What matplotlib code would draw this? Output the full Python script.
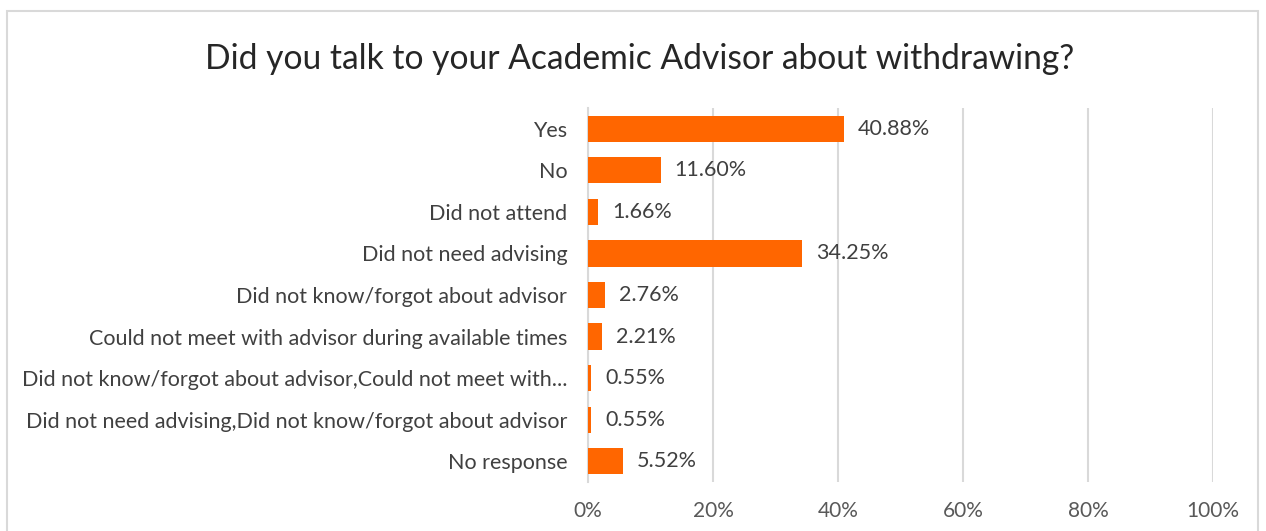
import matplotlib.pyplot as plt
from matplotlib.patches import Rectangle
from matplotlib.ticker import FuncFormatter

plt.rcParams['font.family'] = ['Lato', 'DejaVu Sans']

categories = [
    "Yes",
    "No",
    "Did not attend",
    "Did not need advising",
    "Did not know/forgot about advisor",
    "Could not meet with advisor during available times",
    "Did not know/forgot about advisor,Could not meet with...",
    "Did not need advising,Did not know/forgot about advisor",
    "No response",
]
percents = [40.88, 11.60, 1.66, 34.25, 2.76, 2.21, 0.55, 0.55, 5.52]
x_ticks = [0, 20, 40, 60, 80, 100]

bar_color = "#FF6600"
text_color = "#404040"

fig = plt.figure(figsize=(12.66, 5.31), dpi=100)
ax = fig.add_axes([588 / 1266, 1 - 482 / 531, (1213 - 588) / 1266, (482 - 108) / 531])

ypos = list(range(len(categories)))
ax.barh(ypos, percents, height=0.63, color=bar_color, zorder=3)
ax.set_ylim(len(categories) - 0.5, -0.5)
ax.set_xlim(0, 100)

for y, v in zip(ypos, percents):
    ax.annotate(f"{v:.2f}%", xy=(v, y), xytext=(10, 0), textcoords="offset points",
                va="center", ha="left", fontsize=15.5, color=text_color)

ax.set_yticks(ypos)
ax.set_yticklabels(categories, fontsize=15.5, color=text_color)
ax.set_xticks(x_ticks)
ax.xaxis.set_major_formatter(FuncFormatter(lambda v, p: f"{v:.0f}%"))
ax.tick_params(axis="x", labelsize=15, labelcolor="#595959", length=0, pad=14)
ax.tick_params(axis="y", length=0, pad=15)

ax.grid(axis="x", color="#D9D9D9", linewidth=1.5, zorder=0)
for s in ["top", "right", "bottom"]:
    ax.spines[s].set_visible(False)
ax.spines["left"].set_color("#D9D9D9")
ax.spines["left"].set_linewidth(1.5)

fig.text(0.5 * (207 + 1072) / 1266, 1 - 59 / 531,
         "Did you talk to your Academic Advisor about withdrawing?",
         ha="center", va="center", fontsize=24.2, color="#262626")

frame = Rectangle((7 / 1266, -0.02), (1258 - 7) / 1266, (531 - 11) / 531 + 0.02,
                  transform=fig.transFigure, fill=False, edgecolor="#D9D9D9", linewidth=1.5)
fig.patches.append(frame)

fig.savefig("out.png", dpi=100)
